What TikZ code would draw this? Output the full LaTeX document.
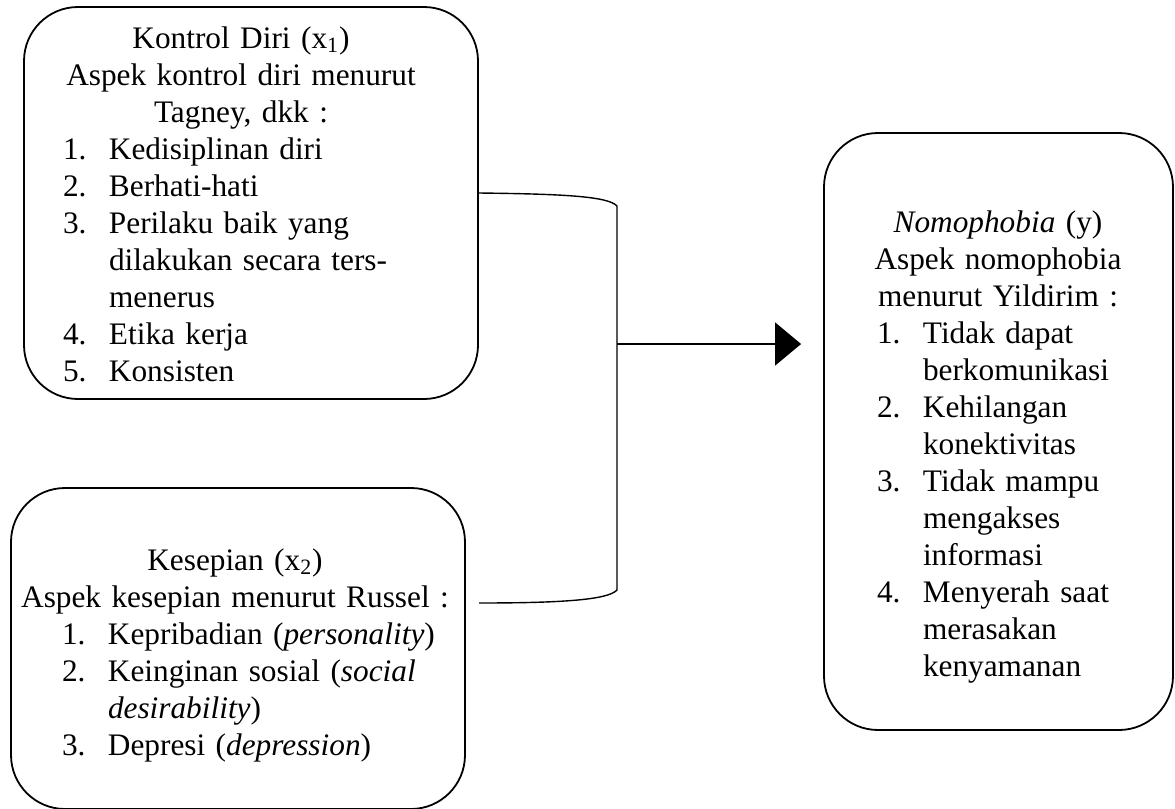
\documentclass[tikz,border=0pt]{standalone}
\usepackage{fontspec}
\setmainfont{Liberation Serif}
\usetikzlibrary{arrows.meta}

\newcommand{\butir}[2]{\par\hangindent=23pt\hangafter=1\noindent\let\\\newline\makebox[23pt][l]{#1}#2}

\begin{document}
\begin{tikzpicture}[x=0.5pt, y=-0.5pt,
  kotak/.style={draw, line width=0.9pt, rounded corners=27pt, inner sep=0pt, minimum width=227pt},
  isi/.style={inner sep=0pt, font=\fontsize{15.65}{18.5}\selectfont},
  garis/.style={line width=0.7pt},
  panah/.style={garis, -{Triangle[length=13pt, width=21.5pt]}}]
  \useasboundingbox (0,0) rectangle (1175,809);
  % kotak variabel
  \node[kotak, minimum height=196pt] (kontrol) at (251,203) {};
  \node[kotak, minimum height=160.5pt] (kesepian) at (238,648.5) {};
  \node[kotak, minimum width=174.5pt, minimum height=298.5pt] (nomo) at (998.5,431.5) {};
  % isi kotak
  \node[isi, text width=200pt] (tkontrol) at (241,204) {%
    {\noindent\centering Kontrol Diri (x\textsubscript{1})\\Aspek kontrol diri menurut\\Tagney, dkk :\par}
    \raggedright\leftskip=11pt
    \butir{1.}{Kedisiplinan diri}
    \butir{2.}{Berhati-hati}
    \butir{3.}{Perilaku baik yang\\dilakukan secara ters-\\menerus}
    \butir{4.}{Etika kerja}
    \butir{5.}{Konsisten}\par};
  \node[isi, text width=230pt] (tkesepian) at (235,655) {%
    {\noindent\centering Kesepian (x\textsubscript{2})\\Aspek kesepian menurut Russel :\par}
    \raggedright\leftskip=28.5pt
    \butir{1.}{Kepribadian (\textit{personality})}
    \butir{2.}{Keinginan sosial (\textit{social\\desirability})}
    \butir{3.}{Depresi (\textit{depression})}\par};
  \node[isi, text width=145pt] (tnomo) at (998,447) {%
    {\noindent\centering \textit{Nomophobia} (y)\\Aspek nomophobia\\menurut Yildirim :\par}
    \raggedright\leftskip=12pt
    \butir{1.}{Tidak dapat\\berkomunikasi}
    \butir{2.}{Kehilangan\\konektivitas}
    \butir{3.}{Tidak mampu\\mengakses\\informasi}
    \butir{4.}{Menyerah saat\\merasakan\\kenyamanan}\par};
  % penghubung
  \coordinate (pertemuan) at (617,344);
  \coordinate (ujung) at (479,603);
  \draw[garis] ([yshift=5pt]kontrol.east) .. controls (560,194) and (608,196) .. (617,206)
    -- (617,590) .. controls (608,600) and (560,603) .. (ujung);
  \draw[panah] (pertemuan) -- ([xshift=-11pt]nomo.west |- pertemuan);
\end{tikzpicture}
\end{document}
